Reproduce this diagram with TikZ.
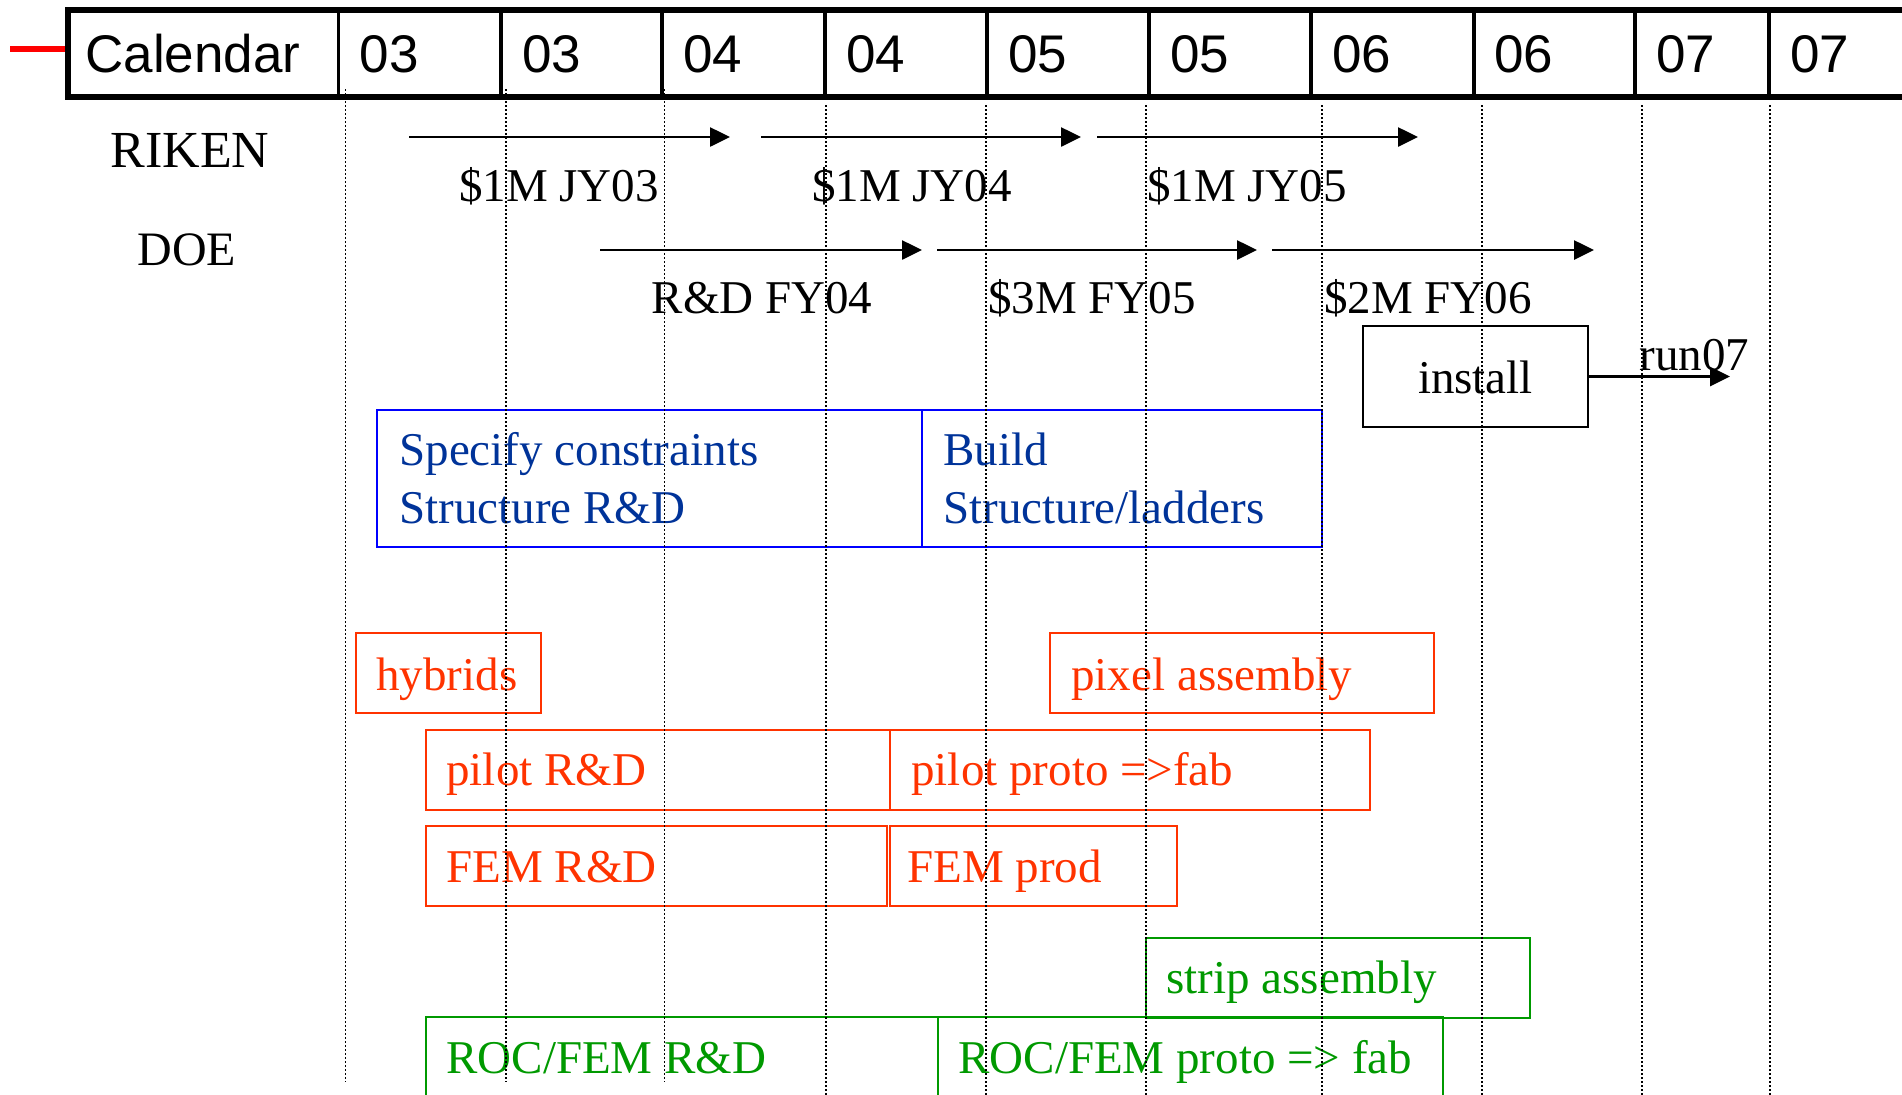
\documentclass[tikz,border=0pt]{standalone}
\usepackage{fontspec}
\setmainfont{Liberation Serif}
\setsansfont{Liberation Sans}
\usetikzlibrary{arrows.meta}
\definecolor{barred}{RGB}{255,51,0}
\definecolor{bargreen}{RGB}{0,153,0}
\definecolor{barblue}{RGB}{0,0,255}
\definecolor{textblue}{RGB}{0,51,153}
\definecolor{linkred}{RGB}{255,0,0}
\begin{document}
\begin{tikzpicture}[x=0.5pt,y=-0.5pt,
    hd/.style={font=\sffamily\fontsize{26.5pt}{30pt}\selectfont, anchor=base west, inner sep=0pt},
    lbl/.style={font=\fontsize{23.5pt}{29pt}\selectfont, anchor=base, inner sep=0pt},
    bar/.style={draw, line width=1pt, anchor=north west, minimum height=40pt, inner sep=0pt, outer sep=0pt},
    redbar/.style={bar, draw=barred},
    greenbar/.style={bar, draw=bargreen},
    bluebar/.style={bar, draw=barblue, minimum height=68.5pt},
    bartext/.style={font=\fontsize{23.5pt}{29pt}\selectfont, anchor=base west, inner sep=0pt, align=flush left},
    grid/.style={line width=0.75pt, dash pattern=on 1pt off 1pt},
    fund/.style={line width=1.3pt, -{Triangle[length=10pt,width=9.5pt]}}]
  \useasboundingbox (0,0) rectangle (1902,1094);
  \clip (0,0) rectangle (1902,1094);
  \draw[linkred, line width=3pt] (10,49) -- (68,49);
  \draw[line width=3pt] (1910,10) -- (68,10) -- (68,97) -- (1910,97);
  \draw[line width=1.75pt]
    (338.5,10) -- (338.5,97) (501,10) -- (501,97) (662,10) -- (662,97)
    (825,10) -- (825,97) (987,10) -- (987,97) (1149,10) -- (1149,97)
    (1311,10) -- (1311,97) (1474,10) -- (1474,97) (1635,10) -- (1635,97)
    (1769,10) -- (1769,97);
  \draw[hd]
    (85,72) node (cal) {Calendar}
    (359.5,72) node (c1) {03}
    (522,72) node (c2) {03}
    (683,72) node (c3) {04}
    (846,72) node (c4) {04}
    (1008,72) node (c5) {05}
    (1170,72) node (c6) {05}
    (1332,72) node (c7) {06}
    (1494,72) node (c8) {06}
    (1656,72) node (c9) {07}
    (1790,72) node (c10) {07};
  \node[lbl, font=\fontsize{26pt}{30pt}\selectfont] (riken) at (190,167) {RIKEN};
  \node[lbl, font=\fontsize{24pt}{30pt}\selectfont] (doe) at (187,265) {DOE};
  \draw[lbl]
    (559,201) node (jy3) {\$1M JY03}
    (912,201) node (jy4) {\$1M JY04}
    (1247,201) node (jy5) {\$1M JY05}
    (762,313) node (fy4) {R\&D FY04}
    (1092,313) node (fy5) {\$3M FY05}
    (1428,313) node (fy6) {\$2M FY06};
  \coordinate (rk1a) at (409,137);
  \coordinate (rk1b) at (730,137);
  \coordinate (rk2a) at (761,137);
  \coordinate (rk2b) at (1081,137);
  \coordinate (rk3a) at (1097,137);
  \coordinate (rk3b) at (1418,137);
  \coordinate (de1a) at (600,250);
  \coordinate (de1b) at (922,250);
  \coordinate (de2a) at (937,250);
  \coordinate (de2b) at (1257,250);
  \coordinate (de3a) at (1272,250);
  \coordinate (de3b) at (1594,250);
  \coordinate (run) at (1730,376.5);
  \node[draw, line width=1.2pt, minimum width=112.5pt, minimum height=50.5pt, inner sep=0pt, outer sep=0pt,
    font=\fontsize{23.5pt}{29pt}\selectfont, text height=17pt, text depth=0pt] (inst) at (1475.5,376.5) {install};
  \node[bartext] (runl) at (1639,370) {run07};
  \begin{scope}[fund]
    \draw (rk1a) to (rk1b);
    \draw (rk2a) to (rk2b);
    \draw (rk3a) to (rk3b);
    \draw (de1a) to (de1b);
    \draw (de2a) to (de2b);
    \draw (de3a) to (de3b);
    \draw (inst) to (run);
  \end{scope}
  \node[bluebar, minimum width=272.5pt] (spec) at (377,410) {};
  \node[bluebar, minimum width=200pt] (build) at (922,410) {};
  \node[bartext, text=textblue, text width=260pt] (spect) at (399,465) {Specify constraints\\Structure R\&D};
  \node[bartext, text=textblue, text width=185pt] (buildt) at (943,465) {Build\\Structure/ladders};
  \node[redbar, minimum width=92.5pt] (hyb) at (356,633) {};
  \node[redbar, minimum width=192pt] (pix) at (1050,633) {};
  \node[redbar, minimum width=232pt] (pil) at (426,730) {};
  \node[redbar, minimum width=240pt] (pilp) at (890,730) {};
  \node[redbar, minimum width=230.5pt] (fem) at (426,826) {};
  \node[redbar, minimum width=143.5pt] (femp) at (890,826) {};
  \node[greenbar, minimum width=192pt] (strip) at (1146,938) {};
  \node[greenbar, minimum width=256pt] (roc) at (426,1017) {};
  \node[greenbar, minimum width=252.5pt] (rocp) at (938,1017) {};
  \draw[bartext, text=barred]
    (376,690) node (hybt) {hybrids}
    (1071,690) node (pixt) {pixel assembly}
    (446,785) node (pilt) {pilot R\&D}
    (911,785) node (pilpt) {pilot proto =>fab}
    (446,882) node (femt) {FEM R\&D}
    (907,882) node (fempt) {FEM prod};
  \draw[bartext, text=bargreen]
    (1166,993) node (stript) {strip assembly}
    (446,1073) node (roct) {ROC/FEM R\&D}
    (958,1073) node (rocpt) {ROC/FEM proto => fab};
  \draw[grid]
    (345.7,89) -- (345.7,1082) (505.8,89) -- (505.8,1082) (664.7,89) -- (664.7,1082)
    (826,105) -- (826,1100) (986,105) -- (986,1100) (1146,105) -- (1146,1100)
    (1322,105) -- (1322,1100) (1482,105) -- (1482,1100) (1642,105) -- (1642,1100)
    (1770,105) -- (1770,1100);
\end{tikzpicture}
\end{document}
